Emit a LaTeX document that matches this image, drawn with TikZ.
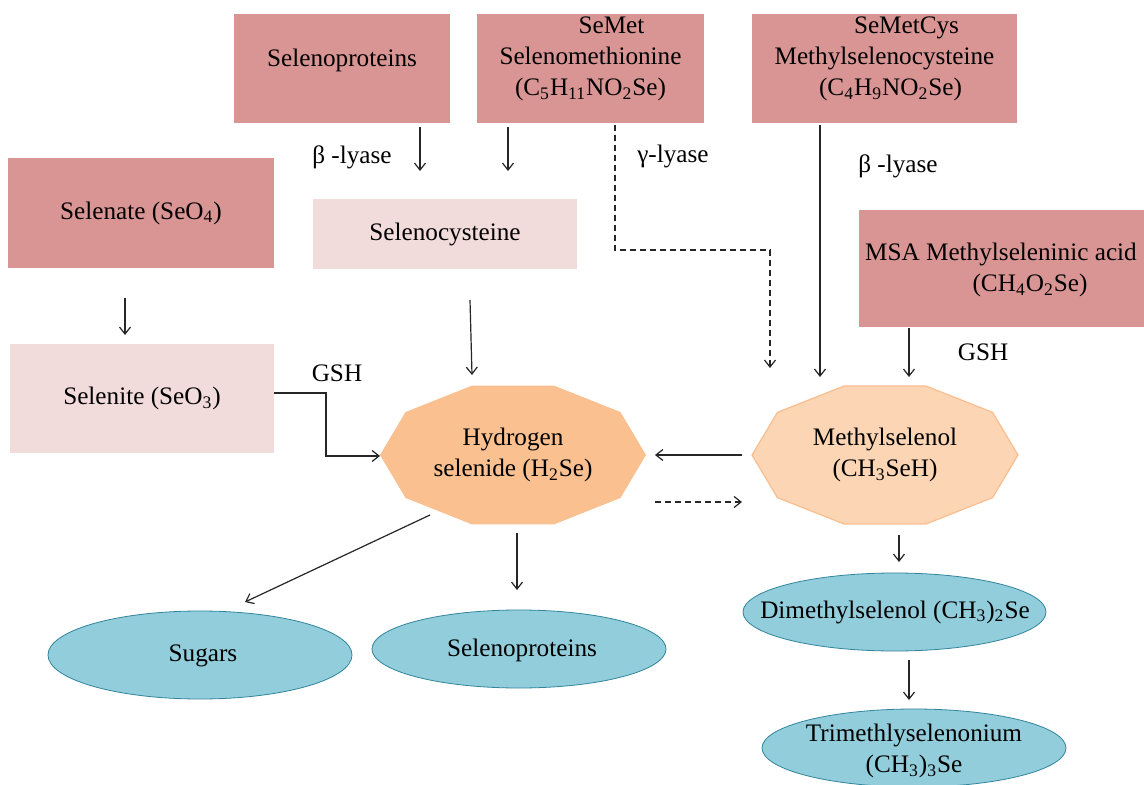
\documentclass[tikz,border=0pt]{standalone}
\usepackage{fontspec}
\setmainfont{Liberation Serif}
\usetikzlibrary{arrows.meta,shapes.geometric}
\definecolor{darkpink}{HTML}{D99594}
\definecolor{lightpink}{HTML}{F2DCDB}
\definecolor{hsecol}{HTML}{FAC090}
\definecolor{mscol}{HTML}{FCD5B4}
\definecolor{msedge}{HTML}{F9BE8E}
\definecolor{aqua}{HTML}{92CDDC}
\definecolor{aquaedge}{HTML}{31859C}
\begin{document}
\begin{tikzpicture}[x=0.5pt,y=-0.5pt,
  every node/.style={font=\fontsize{12.6}{15.5}\selectfont, inner sep=0pt, outer sep=0pt},
  txt/.style={align=center},
  darkbox/.style={rectangle, fill=darkpink},
  lightbox/.style={rectangle, fill=lightpink},
  oval/.style={ellipse, fill=aqua, draw=aquaedge, line width=0.4pt},
  conn/.style={draw=black!85, line width=0.6pt, -{Straight Barb[length=3.5pt,width=5.5pt]}},
  dconn/.style={conn, dash pattern=on 3pt off 2pt},
  lbl/.style={align=center}]
\useasboundingbox (0,0) rectangle (1144,785);
\fill[white] (0,0) rectangle (1144,785);

% top boxes
\node[darkbox, minimum width=108pt, minimum height=54.5pt] (selp) at (342,68.5) {};
\node[txt] (selpt) at (342,60) {Selenoproteins};
\node[darkbox, minimum width=113.5pt, minimum height=54.5pt] (semet) at (590.5,68.5) {};
\node[txt] (semett) at (590.5,59) {\hspace*{21pt}SeMet\\Selenomethionine\\(C\textsubscript{5}H\textsubscript{11}NO\textsubscript{2}Se)};
\node[darkbox, minimum width=132.5pt, minimum height=54.5pt] (semc) at (884.5,68.5) {};
\node[txt] (semct) at (884.5,59) {\hspace*{22pt}SeMetCys\\Methylselenocysteine\\\hspace*{6pt}(C\textsubscript{4}H\textsubscript{9}NO\textsubscript{2}Se)};

% left boxes
\node[darkbox, minimum width=133pt, minimum height=55pt, txt] (selen) at (141,213) {Selenate (SeO\textsubscript{4})};
\node[lightbox, minimum width=132pt, minimum height=35pt, txt] (scys) at (445,234) {Selenocysteine};
\node[lightbox, minimum width=132pt, minimum height=54.5pt, txt] (selit) at (142,398.5) {Selenite (SeO\textsubscript{3})};
\node[darkbox, minimum width=142.5pt, minimum height=58.5pt] (msa) at (1001.5,268.5) {};
\node[txt] (msat) at (1001,270) {MSA Methylseleninic acid\\\hspace*{29pt}(CH\textsubscript{4}O\textsubscript{2}Se)};

% decagons
\filldraw[fill=hsecol, draw=hsecol, line width=0.4pt] plot[samples at={0,36,...,324}] ({513+132.5*cos(\x)},{455+72.5*sin(\x)}) -- cycle;
\node[txt] (hse) at (513,455) {Hydrogen\\selenide (H\textsubscript{2}Se)};
\filldraw[fill=mscol, draw=msedge, line width=0.6pt] plot[samples at={0,36,...,324}] ({885+133*cos(\x)},{455+72.5*sin(\x)}) -- cycle;
\node[txt] (msel) at (885,455) {Methylselenol\\(CH\textsubscript{3}SeH)};

% ellipses
\node[oval, minimum width=152pt, minimum height=44pt] (sug) at (200,655) {};
\node[txt] (sugt) at (203,656) {Sugars};
\node[oval, minimum width=147pt, minimum height=39pt] (selp2) at (519,649) {};
\node[txt] (selp2t) at (522,650) {Selenoproteins};
\node[oval, minimum width=151.5pt, minimum height=39pt] (dms) at (894.5,612) {};
\node[txt] (dmst) at (895,612) {Dimethylselenol (CH\textsubscript{3})\textsubscript{2}Se};
\node[oval, minimum width=152pt, minimum height=39pt] (tms) at (914,748) {};
\node[txt] (tmst) at (914,751) {Trimethlyselenonium\\(CH\textsubscript{3})\textsubscript{3}Se};

% labels
\node[lbl] (l1) at (352,157) {β -lyase};
\node[lbl] (l2) at (673,156) {γ-lyase};
\node[lbl] (l3) at (898,166) {β -lyase};
\node[lbl] (g1) at (337,373) {GSH};
\node[lbl] (g2) at (983,352) {GSH};

% connector end points
\coordinate (a1s) at (420,127); \coordinate (a1e) at (420,171);
\coordinate (a2s) at (508,127); \coordinate (a2e) at (508,171);
\coordinate (d1s) at (615,125); \coordinate (d1m) at (770,250); \coordinate (d1e) at (770,368);
\coordinate (a3s) at (820,125); \coordinate (a3e) at (820,377);
\coordinate (a4s) at (909,328); \coordinate (a4e) at (909,377);
\coordinate (a5s) at (125,298); \coordinate (a5e) at (125,335);
\coordinate (a6s) at (470,300); \coordinate (a6e) at (472,375);
\coordinate (a7s) at (274,393); \coordinate (a7m) at (326,456); \coordinate (a7e) at (380,456);
\coordinate (a8s) at (742,455); \coordinate (a8e) at (655,455);
\coordinate (a9s) at (655,502); \coordinate (a9e) at (742,502);
\coordinate (a10s) at (430,515); \coordinate (a10e) at (245,602);
\coordinate (a11s) at (517,533); \coordinate (a11e) at (517,590);
\coordinate (a12s) at (899,535); \coordinate (a12e) at (899,562);
\coordinate (a13s) at (909,660); \coordinate (a13e) at (909,700);

\draw[conn] (a1s) -- (a1e);
\draw[conn] (a2s) -- (a2e);
\draw[dconn] (d1s) |- (d1m) -- (d1e);
\draw[conn] (a3s) -- (a3e);
\draw[conn] (a4s) -- (a4e);
\draw[conn] (a5s) -- (a5e);
\draw[conn] (a6s) -- (a6e);
\draw[conn] (a7s) -| (a7m) -- (a7e);
\draw[conn] (a8s) -- (a8e);
\draw[dconn] (a9s) -- (a9e);
\draw[conn] (a10s) -- (a10e);
\draw[conn] (a11s) -- (a11e);
\draw[conn] (a12s) -- (a12e);
\draw[conn] (a13s) -- (a13e);
\end{tikzpicture}
\end{document}
